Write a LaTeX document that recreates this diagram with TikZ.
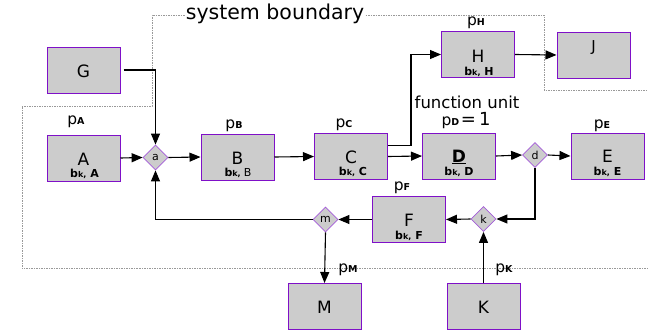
\documentclass[tikz,border=0pt]{standalone}
\usepackage{fontspec}
\setmainfont{DejaVu Sans}
\usetikzlibrary{shapes.geometric,arrows.meta}
\definecolor{boxgray}{HTML}{CCCCCC}
\definecolor{boxpurple}{HTML}{7F10C8}
\definecolor{dmpurple}{HTML}{A45CD8}
\definecolor{bndgray}{HTML}{999999}
\newcommand{\fs}[1]{\fontsize{#1}{#1}\selectfont}
\newcommand{\bkl}[1]{{\bfseries\fs{11}b{\fs{8}k,} #1}}
\newcommand{\pl}[1]{{\fs{15.5}p{\bfseries\fs{9.5}#1}}}
\begin{document}
\begin{tikzpicture}[x=1pt,y=-1pt,
  fbox/.style={draw=boxpurple,fill=boxgray,line width=1pt,minimum width=73pt,minimum height=46pt,inner sep=0pt},
  dm/.style={diamond,draw=dmpurple,fill=boxgray,line width=0.8pt,minimum width=25pt,minimum height=25pt,inner sep=0pt,font=\fs{11}},
  lt/.style={inner sep=0pt,font=\fs{17}},
  bk/.style={inner sep=0pt},
  pt/.style={inner sep=0pt},
  conn/.style={line width=1.1pt,line join=miter,-{Triangle[length=11pt,width=9pt]}},
  bnd/.style={draw=bndgray,line width=0.8pt,dash pattern=on 1.5pt off 1pt}]
\useasboundingbox (0,0) rectangle (648,332);
% boundary
\draw[bnd] (648,268) -- (22,268) -- (22,106) -- (152,106) -- (152,15) -- (544,15) -- (544,90) -- (648,90);
\node[fill=white,inner sep=1pt,font=\fs{20.5}] (sb) at (275,14) {system boundary};
% boxes
\node[fbox] (G) at (83.5,70) {};
\node[lt] (Gt) at (83.5,71) {G};
\node[fbox] (A) at (83.5,158) {};
\node[lt] (At) at (83.5,159) {A};
\node[bk] (Ab) at (84.5,173.5) {\bkl{A}};
\node[fbox] (B) at (237.5,157) {};
\node[lt] (Bt) at (237.5,158) {B};
\node[bk] (Bb) at (238,172.5) {{\bfseries\fs{11}b{\fs{8}k,}} {\fs{11}B}};
\node[fbox] (C) at (351,156.5) {};
\node[lt] (Ct) at (351,157) {C};
\node[bk] (Cb) at (353,172) {\bkl{C}};
\node[fbox] (D) at (459,156) {};
\node[lt] (Dt) at (459,157) {\bfseries\underline{D}};
\node[bk] (Db) at (459,172) {\bkl{D}};
\node[fbox] (E) at (607.5,156) {};
\node[lt] (Et) at (607.5,156) {E};
\node[bk] (Eb) at (607.5,172) {\bkl{E}};
\node[fbox] (H) at (478,54.5) {};
\node[lt] (Ht) at (478,56) {H};
\node[bk] (Hb) at (479,72) {\bkl{H}};
\node[fbox] (J) at (593.5,55) {};
\node[lt,font=\fs{15}] (Jt) at (593.5,48) {J};
\node[fbox] (F) at (409,219.5) {};
\node[lt] (Ft) at (409,220) {F};
\node[bk] (Fb) at (409,236) {\bkl{F}};
\node[fbox] (M) at (324.5,306.5) {};
\node[lt] (Mt) at (324.5,307) {M};
\node[fbox] (K) at (483.5,306.5) {};
\node[lt] (Kt) at (483.5,307) {K};
% diamonds
\node[dm] (a) at (155.5,157.5) {a};
\node[dm] (d) at (535,155) {d};
\node[dm] (k) at (483.5,219) {k};
\node[dm] (m) at (325.5,219.5) {m};
% labels
\node[pt] (pA) at (76,122) {\pl{A}};
\node[pt] (pB) at (234,126) {\pl{B}};
\node[pt] (pC) at (344,125) {\pl{C}};
\node[pt] (pD) at (466,121) {\pl{D}\,{\fs{18}=\,1}};
\node[pt] (pH) at (476,23) {\pl{H}};
\node[pt] (pE) at (602,126) {\pl{E}};
\node[pt] (pF) at (402,188) {\pl{F}};
\node[pt] (pM) at (348,270) {\pl{M}};
\node[pt] (pK) at (504,270) {\pl{K}};
\node[pt,font=\fs{16.5}] (fu) at (467,102) {function unit};
% connectors
\draw[conn] ([xshift=3pt]G.east) -| (a.north);
\draw[conn] (A.east) -- (a.west);
\draw[conn] (a.east) -- (B.west);
\draw[conn] (B.east) -- (C.west);
\draw[conn] ([yshift=11pt]C.east) -- ++(23,0) |- (H.west);
\draw[conn] (C.east) -- (D.west);
\draw[conn] (H.east) -- (J.west);
\draw[conn] (D.east) -- (d.west);
\draw[conn] (d.east) -- (E.west);
\draw[conn] (d.south) |- (k.east);
\draw[conn] (K.north) -- (k.south);
\draw[conn] (k.west) -- (F.east);
\draw[conn] (F.west) -- (m.east);
\draw[conn] (m.west) -| (a.south);
\draw[conn] (m.south) -- (M.north);
\end{tikzpicture}
\end{document}
